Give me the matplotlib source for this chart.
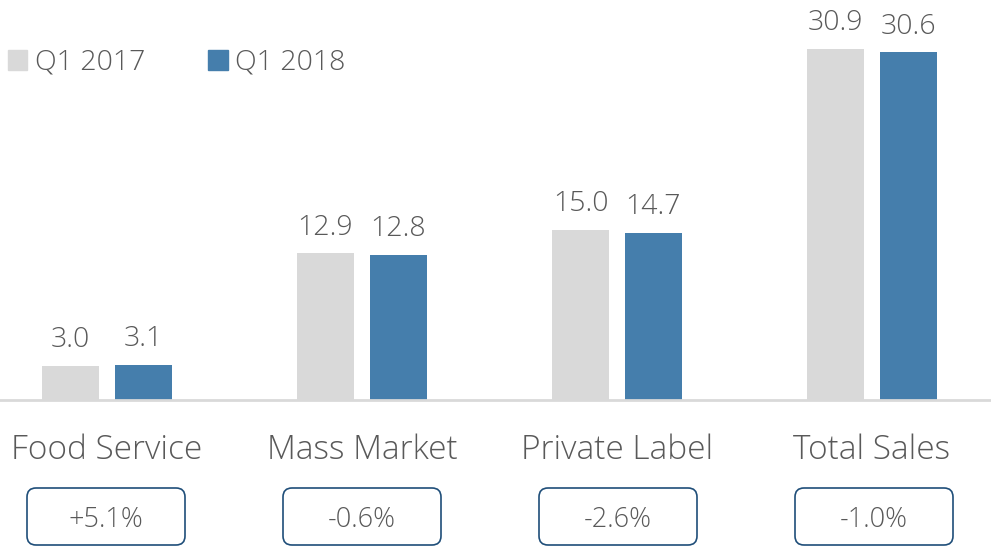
import matplotlib
matplotlib.use("Agg")
import matplotlib.pyplot as plt
from matplotlib.patches import FancyBboxPatch, Patch
from matplotlib.transforms import blended_transform_factory, IdentityTransform
import numpy as np

categories = ["Food Service", "Mass Market", "Private Label", "Total Sales"]
q1_2017 = [3.0, 12.9, 15.0, 30.9]
q1_2018 = [3.1, 12.8, 14.7, 30.6]
changes = ["+5.1%", "-0.6%", "-2.6%", "-1.0%"]
series_names = ["Q1 2017", "Q1 2018"]

plt.rcParams['font.family'] = ['Open Sans', 'DejaVu Sans']
plt.rcParams['font.weight'] = 'light'
TXT = "#595959"
GRAY = "#d9d9d9"
BLUE = "#457eac"
EDGE = "#1f4e79"

W, H, DPI = 991, 546, 100
fig = plt.figure(figsize=(W / DPI, H / DPI), dpi=DPI)
base_px = 400
ax = fig.add_axes([0, 1 - base_px / H, 1, base_px / H])

x = np.arange(len(categories))
bw = 0.2235
off = 0.143
b1 = ax.bar(x - off, q1_2017, bw, color=GRAY, label=series_names[0], zorder=2)
b2 = ax.bar(x + off, q1_2018, bw, color=BLUE, label=series_names[1], zorder=2)

ax.set_xlim(-107 / 255, (W - 107) / 255)
ax.set_ylim(0, base_px / 11.36)
ax.axis("off")
ax.axhline(0, color=GRAY, lw=2, zorder=3, clip_on=False)

for bars, vals in ((b1, q1_2017), (b2, q1_2018)):
    for r, v in zip(bars, vals):
        ax.annotate(f"{v:.1f}", (r.get_x() + r.get_width() / 2, r.get_height()),
                    xytext=(0, 13.5), textcoords="offset points",
                    ha="center", va="baseline", fontsize=20.5, color=TXT)

tr = blended_transform_factory(ax.transData, fig.transFigure)
for i, (xi, cat, ch) in enumerate(zip(x, categories, changes)):
    ax.text(xi, 1 - 459 / H, cat, transform=tr, ha="center", va="baseline",
            fontsize=24, color=TXT)
    cx = ax.transData.transform((xi, 0))[0] - 1 + i
    bwpx, bhpx = 158, 57
    patch = FancyBboxPatch((cx - bwpx / 2, H - 545), bwpx, bhpx,
                           boxstyle="round,pad=0,rounding_size=9",
                           transform=IdentityTransform(), fc="white",
                           ec=EDGE, lw=1.2)
    fig.patches.append(patch)
    fig.text(cx / W, 1 - 527 / H, ch, ha="center", va="baseline",
             fontsize=19.5, color=TXT)

handles = [Patch(color=GRAY), Patch(color=BLUE)]
leg = fig.legend(handles, series_names, loc="upper left", bbox_to_anchor=(-0.001, 1 - 40 / H),
                 ncol=2, frameon=False, fontsize=20.5, labelcolor=TXT,
                 handlelength=0.7, handleheight=0.7, handletextpad=0.25,
                 columnspacing=2.2, borderaxespad=0, borderpad=0.3)

fig.savefig("out.png", dpi=DPI)
